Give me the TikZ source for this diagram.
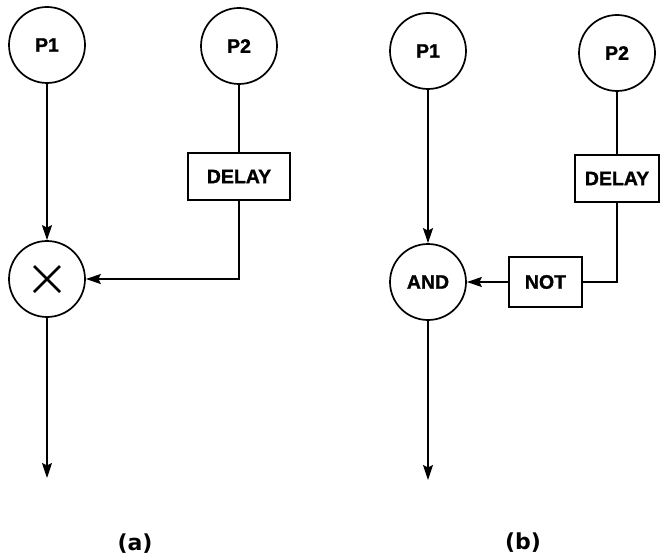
\documentclass[tikz,border=0pt]{standalone}
\usepackage{fontspec}
\setmainfont{Liberation Sans}[BoldFeatures={FakeBold=1.2}]
\newfontfamily\labfont{DejaVu Sans}
\usetikzlibrary{arrows.meta}
\begin{document}
\begin{tikzpicture}[x=1pt,y=-1pt,
  every node/.style={font=\fontsize{19.5}{22}\selectfont\bfseries, inner sep=0pt},
  proc/.style={draw, circle, line width=1.7pt, minimum size=76pt},
  gate/.style={draw, rectangle, line width=1.6pt},
  conn/.style={line width=1.6pt},
  arr/.style={conn, -{Stealth[length=15pt,width=10pt,inset=2.5pt]}},
  caption/.style={font=\labfont\bfseries\fontsize{22}{26}\selectfont}
]
\useasboundingbox (0,0) rectangle (660,556);
% ---------- (a) ----------
\node[proc] (a1) at (47,45) {P1};
\node[proc] (a2) at (239,46) {P2};
\node[proc] (ax) at (47,279) {};
\draw[line width=2.6pt] ([shift={(-13,-13)}]ax.center) -- ([shift={(13,13)}]ax.center);
\draw[line width=2.6pt] ([shift={(-13,13)}]ax.center) -- ([shift={(13,-13)}]ax.center);
\node[gate, minimum width=102pt, minimum height=47pt] (adelay) at (239,176.5) {DELAY};
\coordinate (acorner) at (adelay.south |- ax.east);
\coordinate (aout) at (47,478);
\draw[arr] (a1) -- (ax);
\draw[conn] (a2) -- (adelay);
\draw[arr] (adelay.south) -- (acorner) -- (ax.east);
\draw[arr] (ax) -- (aout);
\node[caption] (la) at (135,544) {(a)};
% ---------- (b) ----------
\node[proc] (b1) at (428,51) {P1};
\node[proc] (b2) at (617,53) {P2};
\node[proc] (band) at (428,282) {AND};
\node[gate, minimum width=84pt, minimum height=47pt] (bdelay) at (617,178.5) {DELAY};
\node[gate, minimum width=73pt, minimum height=50pt] (bnot) at (545.5,282) {NOT};
\coordinate (bcorner) at (bdelay.south |- bnot.east);
\coordinate (bout) at (428,480);
\draw[arr] (b1) -- (band);
\draw[conn] (b2) -- (bdelay);
\draw[conn] (bdelay.south) -- (bcorner) -- (bnot.east);
\draw[arr] (bnot) -- (band);
\draw[arr] (band) -- (bout);
\node[caption] (lb) at (523,543) {(b)};
\end{tikzpicture}
\end{document}
